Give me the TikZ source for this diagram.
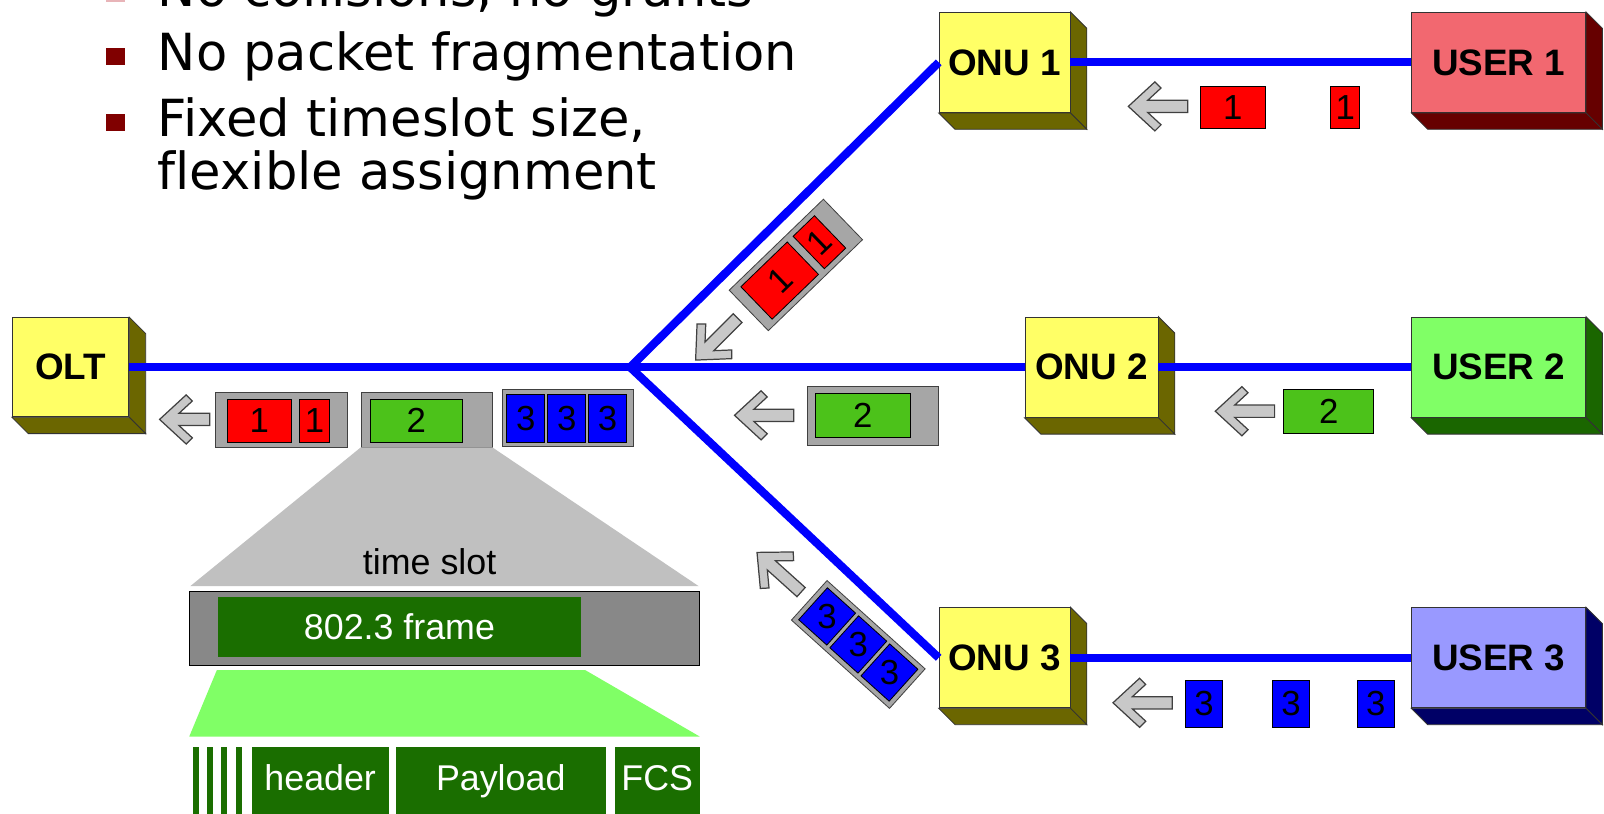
\documentclass[tikz,border=0pt]{standalone}
\usepackage{fontspec}
\setmainfont{Liberation Sans}
\newfontfamily\bulletfont[Ligatures=NoCommon]{DejaVu Sans}
\usepackage{xcolor}
\usepackage{tikz}

\definecolor{cubeyellow}{RGB}{255,255,102}
\definecolor{cubeolive}{RGB}{107,102,0}
\definecolor{userred}{RGB}{242,104,112}
\definecolor{userredside}{RGB}{102,0,0}
\definecolor{usergreen}{RGB}{128,255,102}
\definecolor{usergreenside}{RGB}{26,102,0}
\definecolor{userblue}{RGB}{153,153,255}
\definecolor{userblueside}{RGB}{0,0,102}
\definecolor{pktred}{RGB}{255,0,0}
\definecolor{pktgreen}{RGB}{76,194,26}
\definecolor{pktblue}{RGB}{0,0,255}
\definecolor{pktgray}{RGB}{166,166,166}
\definecolor{arrowfill}{RGB}{200,200,200}
\definecolor{slotgray}{RGB}{192,192,192}
\definecolor{bargray}{RGB}{136,136,136}
\definecolor{framegreen}{RGB}{26,110,0}
\definecolor{lightgreen}{RGB}{128,255,102}
\definecolor{bulletred}{RGB}{128,0,0}
\definecolor{bulletpink}{RGB}{232,180,184}

% side and bottom faces of a box node
\newcommand{\cubesides}[2]{%
\filldraw[fill=#2,draw=black!80,line width=0.8pt] (#1.north east) -- ++(16,16) -- ([shift={(16,16)}]#1.south east) -- (#1.south east) -- cycle;
\filldraw[fill=#2,draw=black!80,line width=0.8pt] (#1.south west) -- ++(16,16) -- ([shift={(16,16)}]#1.south east) -- (#1.south east) -- cycle;}

% grey block arrow, tip at #2, turned by #3
\newcommand{\grayarrow}[3][58]{%
\draw[arrowgray,shift={#2},rotate=#3] (0,0) -- (26,-24) -- (32,-18) -- (19,-6) -- (#1,-6) -- (#1,6) -- (19,6) -- (32,18) -- (26,24) -- cycle;}

\begin{document}
\begin{tikzpicture}[x=1pt,y=-1pt,
  fiber/.style={blue,line width=8pt},
  cubeface/.style={draw=black!80,line width=0.8pt,inner sep=0pt,font=\bfseries\fontsize{36}{36}\selectfont},
  pkt/.style={draw=black,line width=0.8pt,inner sep=0pt,font=\fontsize{34}{34}\selectfont},
  pktbox/.style={draw=black!75,fill=pktgray,line width=0.8pt,inner sep=0pt},
  arrowgray/.style={fill=arrowfill,draw=black!75,line width=1.2pt},
  field/.style={fill=framegreen,text=white,inner sep=0pt,font=\fontsize{35}{35}\selectfont},
  bullettext/.style={inner sep=0pt,anchor=base west,font=\bulletfont\fontsize{50}{50}\selectfont}]
\useasboundingbox (0,0) rectangle (1568,795);
\clip (0,0) rectangle (1568,795);
\fill[white] (0,0) rectangle (1568,795);

% bullet list
\fill[bulletpink] (104,-15) rectangle (122,2);
\node[bullettext] (line0) at (154,6) {No collisions, no grants};
\fill[bulletred] (104,47) rectangle (122,64);
\node[bullettext] (line1) at (154,69) {No packet fragmentation};
\fill[bulletred] (104,111) rectangle (122,128);
\node[bullettext] (line2) at (154,133) {Fixed timeslot size,};
\node[bullettext] (line3) at (154,185) {flexible assignment};

% boxes
\node[cubeface,fill=cubeyellow,minimum width=114,minimum height=97] (olt) at (69,359) {OLT};
\cubesides{olt}{cubeolive}
\node[cubeface,fill=cubeyellow,minimum width=128,minimum height=98] (onu1) at (982,61) {ONU 1};
\cubesides{onu1}{cubeolive}
\node[cubeface,fill=cubeyellow,minimum width=130,minimum height=98] (onu2) at (1067,359) {ONU 2};
\cubesides{onu2}{cubeolive}
\node[cubeface,fill=cubeyellow,minimum width=128,minimum height=98] (onu3) at (982,643) {ONU 3};
\cubesides{onu3}{cubeolive}
\node[cubeface,fill=userred,minimum width=170,minimum height=98] (user1) at (1465,61) {USER 1};
\cubesides{user1}{userredside}
\node[cubeface,fill=usergreen,minimum width=170,minimum height=98] (user2) at (1465,359) {USER 2};
\cubesides{user2}{usergreenside}
\node[cubeface,fill=userblue,minimum width=170,minimum height=98] (user3) at (1465,643) {USER 3};
\cubesides{user3}{userblueside}

% fibres
\coordinate (split) at (616,359);
\draw[fiber] (olt.east) -- (onu2.west);
\draw[fiber] (onu1.west) -- (split) -- (onu3.west);
\draw[fiber] (onu1.east) -- (user1.west);
\draw[fiber] (onu2.east) -- (user2.west);
\draw[fiber] (onu3.east) -- (user3.west);

% frames at the OLT
\grayarrow[49]{(156,410)}{0}
\node[pktbox,minimum width=129,minimum height=53] (slot1) at (275.5,410.5) {};
\node[pkt,fill=pktred,minimum width=63,minimum height=42] (p1a) at (253.5,411) {1};
\node[pkt,fill=pktred,minimum width=29,minimum height=42] (p1b) at (307.5,411) {1};
\node[pktbox,minimum width=128,minimum height=53] (slot2) at (417,410.5) {};
\node[pkt,fill=pktgreen,minimum width=90,minimum height=42] (p2) at (407,411) {2};
\node[pktbox,minimum width=128,minimum height=55] (slot3) at (555,408.5) {};
\node[pkt,fill=pktblue,minimum width=37,minimum height=46] (p3a) at (514,409) {3};
\node[pkt,fill=pktblue,minimum width=37,minimum height=46] (p3b) at (554,409) {3};
\node[pkt,fill=pktblue,minimum width=37,minimum height=46] (p3c) at (594,409) {3};

% frames on the branches
\grayarrow{(718,406)}{0}
\node[pktbox,minimum width=128,minimum height=57] (slotb2) at (853,406.5) {};
\node[pkt,fill=pktgreen,minimum width=92,minimum height=43] (pb2) at (843.5,406.5) {2};
\grayarrow{(680,352)}{45}
\begin{scope}[shift={(778,259)},rotate=44,transform shape]
\node[pktbox,minimum width=128,minimum height=55] (slotb1) at (0,0) {};
\node[pkt,fill=pktred,minimum width=63,minimum height=44] (pb1a) at (-22,0) {1};
\node[pkt,fill=pktred,minimum width=29,minimum height=44] (pb1b) at (32,0) {1};
\end{scope}
\grayarrow{(740,540)}{-42}
\begin{scope}[shift={(839,630)},rotate=-42,transform shape]
\node[pktbox,minimum width=129,minimum height=52] (slotb3) at (0,0) {};
\node[pkt,fill=pktblue,minimum width=37,minimum height=42] (pb3a) at (-41,0) {\rotatebox{42}{3}};
\node[pkt,fill=pktblue,minimum width=37,minimum height=42] (pb3b) at (0,0) {\rotatebox{42}{3}};
\node[pkt,fill=pktblue,minimum width=37,minimum height=42] (pb3c) at (41,0) {\rotatebox{42}{3}};
\end{scope}

% packets from the users
\grayarrow{(1103,104)}{0}
\node[pkt,fill=pktred,minimum width=64,minimum height=42] (pu1a) at (1205,105) {1};
\node[pkt,fill=pktred,minimum width=28,minimum height=42] (pu1b) at (1315,105) {1};
\grayarrow{(1188,402)}{0}
\node[pkt,fill=pktgreen,minimum width=88,minimum height=43] (pu2) at (1299,402.5) {2};
\grayarrow{(1088,687)}{0}
\node[pkt,fill=pktblue,minimum width=36,minimum height=46] (pu3a) at (1177,688) {3};
\node[pkt,fill=pktblue,minimum width=36,minimum height=46] (pu3b) at (1262,688) {3};
\node[pkt,fill=pktblue,minimum width=36,minimum height=46] (pu3c) at (1345,688) {3};

% time slot zoom
\fill[slotgray] (slot2.south west) -- (slot2.south east) -- (683,573) -- (186,573) -- cycle;
\node[inner sep=0pt,anchor=base,font=\fontsize{35}{35}\selectfont] (tslabel) at (420,562) {time slot};
\node[draw=black,fill=bargray,line width=1pt,inner sep=0pt,minimum width=499,minimum height=73] (tslot) at (434.5,614.5) {};
\node[field,minimum width=355,text height=41,text depth=17] (frame) at (390.5,613) {802.3 frame};
\fill[lightgreen] (212,655) -- (572,655) -- (684,720) -- (185,720) -- cycle;
\fill[framegreen] (189,730) rectangle (195,800);
\fill[framegreen] (202,730) rectangle (208,800);
\fill[framegreen] (216,730) rectangle (222,800);
\fill[framegreen] (231,730) rectangle (237,800);
\node[field,minimum width=134,text height=43,text depth=37] (hdr) at (313,770) {header};
\node[field,minimum width=205,text height=43,text depth=37] (payload) at (489.5,770) {Payload};
\node[field,minimum width=83,text height=43,text depth=37] (fcs) at (642.5,770) {FCS};
\end{tikzpicture}
\end{document}
